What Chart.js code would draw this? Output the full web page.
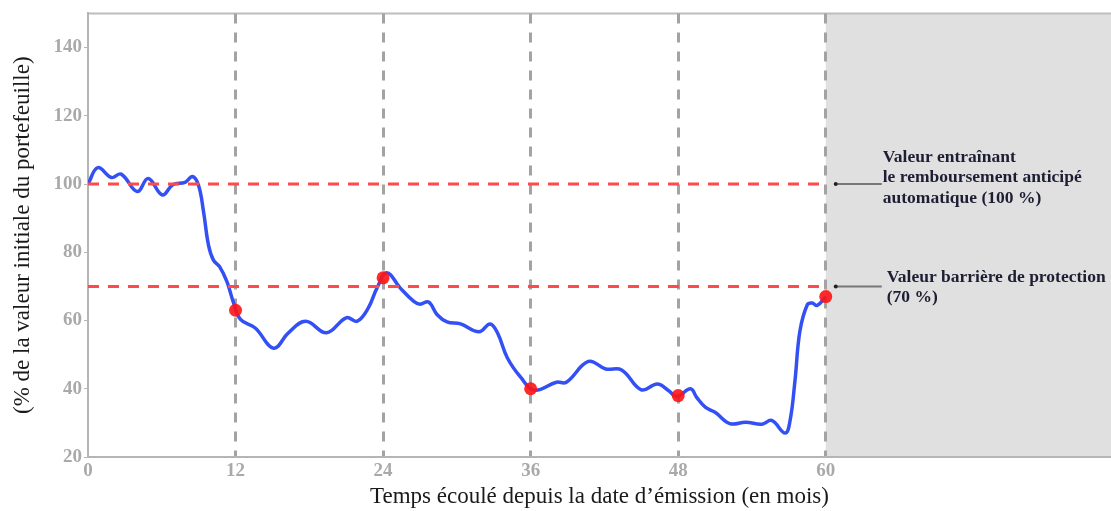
<!DOCTYPE html>
<html>
<head>
<meta charset="utf-8">
<script src="https://cdn.jsdelivr.net/npm/chart.js@4/dist/chart.umd.min.js"></script>
<style>
  html, body { margin: 0; padding: 0; background: #fff; }
  #wrap { width: 1111px; height: 511px; }
</style>
</head>
<body>
<div id="wrap"><canvas id="chart" width="1111" height="511"></canvas></div>
<script>
// portfolio value, % of initial value, by month since issue
const months = [0, 0.8, 1.9, 2.7, 4.0, 4.9, 6.05, 6.9, 7.9, 8.5, 9.0, 9.4, 9.8, 10.2, 10.7, 11.3, 11.8, 12.4,
  13.6, 15.1, 16.3, 17.7, 19.4, 21.0, 21.9, 22.8, 23.5, 24.3, 25.4, 26.5, 27.0, 27.7, 28.4, 29.2, 30.3,
  31.8, 32.7, 33.3, 34.1, 35.2, 36.3, 38.1, 38.9, 40.7, 42.1, 43.4, 45.0, 46.3, 47.2, 47.9, 49.0, 49.5,
  50.2, 51.0, 52.2, 53.5, 54.8, 55.6, 56.7, 57.1, 57.5, 57.9, 58.5, 58.9, 59.3, 60.0];
const portfolio = [100, 104.8, 101.9, 102.9, 97.8, 101.6, 96.8, 99.8, 100.5, 102.2, 99.5, 91.8, 82.1, 77.7, 75.8, 71.4, 65.6, 60.3,
  57.8, 51.9, 56.4, 59.8, 56.4, 60.8, 59.8, 63.7, 69.5, 74.0, 69.5, 65.6, 64.8, 65.4, 61.7, 59.6, 59.0,
  56.7, 59.0, 56.4, 49.1, 43.3, 39.6, 41.9, 41.9, 48.0, 45.8, 45.5, 39.7, 41.4, 39.5, 37.7, 40.0, 37.5,
  34.6, 33.1, 29.8, 30.2, 29.6, 30.7, 27.0, 30.7, 42.4, 56.9, 64.6, 65.1, 64.4, 67.0];

// observation dates and the values recorded there
const obsMonths = [12, 24, 36, 48, 60];
const obsValues = [63, 72.5, 40, 38, 67];

// thresholds
const autocallLevel = 100;
const barrierLevel = 70;
const lastObs = 60;
const xMax = 83.2;

const yTicks = [20, 40, 60, 80, 100, 120, 140];
const xTicks = [0, 12, 24, 36, 48, 60];

const notes = [
  { level: autocallLevel, lines: ['Valeur entraînant', 'le remboursement anticipé', 'automatique (100 %)'], dy: -27, dx: 48 },
  { level: barrierLevel, lines: ['Valeur barrière de protection', '(70 %)'], dy: -9, dx: 52 }
];

const serif = '"Liberation Serif", "DejaVu Serif", serif';

const shadePlugin = {
  id: 'shade',
  beforeDraw(chart) {
    const { ctx, chartArea, scales } = chart;
    const x0 = scales.x.getPixelForValue(lastObs);
    ctx.save();
    ctx.fillStyle = '#e0e0e0';
    ctx.fillRect(x0, chartArea.top, chart.width - x0, chartArea.bottom - chartArea.top);
    // top frame line
    ctx.strokeStyle = '#bdbdbd';
    ctx.lineWidth = 2;
    ctx.beginPath();
    ctx.moveTo(chartArea.left, chartArea.top);
    ctx.lineTo(chart.width, chartArea.top);
    ctx.stroke();
    ctx.restore();
  },
  afterDraw(chart) {
    const { ctx, scales } = chart;
    const xs = scales.x.getPixelForValue(lastObs);
    ctx.save();
    notes.forEach(n => {
      const y = scales.y.getPixelForValue(n.level);
      ctx.strokeStyle = '#777';
      ctx.lineWidth = 2;
      ctx.beginPath();
      ctx.moveTo(xs + 10, y);
      ctx.lineTo(xs + 56, y);
      ctx.stroke();
      ctx.fillStyle = '#222';
      ctx.beginPath();
      ctx.arc(xs + 10, y, 2, 0, Math.PI * 2);
      ctx.fill();
      ctx.fillStyle = '#1d1d33';
      ctx.font = 'bold 17.5px ' + serif;
      ctx.textBaseline = 'middle';
      n.lines.forEach((t, i) => ctx.fillText(t, xs + 9 + n.dx, y + n.dy + i * 20.5));
    });
    ctx.restore();
  }
};

const flat = (lvl) => [{ x: 0, y: lvl }, { x: lastObs, y: lvl }];

new Chart(document.getElementById('chart'), {
  type: 'line',
  data: {
    datasets: [
      {
        label: 'Remboursement anticipé',
        data: flat(autocallLevel),
        borderColor: '#ff4a4a',
        borderWidth: 3,
        borderDash: [11, 9],
        pointRadius: 0,
        tension: 0
      },
      {
        label: 'Barrière',
        data: flat(barrierLevel),
        borderColor: '#ff4a4a',
        borderWidth: 3,
        borderDash: [11, 9],
        pointRadius: 0,
        tension: 0
      },
      {
        label: 'Constatations',
        data: obsMonths.map((m, i) => ({ x: m, y: obsValues[i] })),
        showLine: false,
        pointRadius: 6.5,
        pointBackgroundColor: 'rgba(255,20,20,0.9)',
        pointBorderWidth: 0
      },
      {
        label: 'Portefeuille',
        data: months.map((m, i) => ({ x: m, y: portfolio[i] })),
        borderColor: '#3350f5',
        borderWidth: 3.5,
        pointRadius: 0,
        tension: 0.4
      }
    ]
  },
  options: {
    responsive: false,
    animation: false,
    layout: { autoPadding: false, padding: { top: 10, right: 0, left: 0, bottom: 0 } },
    plugins: { legend: { display: false }, tooltip: { enabled: false } },
    scales: {
      x: {
        type: 'linear',
        min: 0,
        max: xMax,
        afterBuildTicks: s => { s.ticks = xTicks.map(v => ({ value: v })); },
        afterFit: s => { s.height = 54; },
        grid: {
          color: c => (c.tick && c.tick.value === 0 ? 'rgba(0,0,0,0)' : '#a3a3a3'),
          lineWidth: 3,
          drawTicks: false
        },
        border: { color: '#b5b5b5', width: 2, dash: [10, 9] },
        ticks: {
          color: '#a9a9a9',
          font: { family: serif, size: 19, weight: 'bold' },
          padding: 3,
          maxRotation: 0
        },
        title: {
          display: true,
          text: 'Temps écoulé depuis la date d\u2019émission (en mois)',
          color: '#1a1a1a',
          font: { family: serif, size: 23 },
          padding: { top: 0, bottom: 0 }
        }
      },
      y: {
        min: 20,
        max: 150,
        afterBuildTicks: s => { s.ticks = yTicks.map(v => ({ value: v })); },
        afterFit: s => { s.width = 88; },
        grid: {
          drawOnChartArea: false,
          color: '#b5b5b5',
          tickLength: 4
        },
        border: { color: '#b5b5b5', width: 2 },
        ticks: {
          color: '#a9a9a9',
          font: { family: serif, size: 19, weight: 'bold' },
          padding: 2
        },
        title: {
          display: true,
          text: '(% de la valeur initiale du portefeuille)',
          color: '#1a1a1a',
          font: { family: serif, size: 23 },
          padding: { top: 9, bottom: 0 }
        }
      }
    }
  },
  plugins: [shadePlugin]
});
</script>
</body>
</html>
